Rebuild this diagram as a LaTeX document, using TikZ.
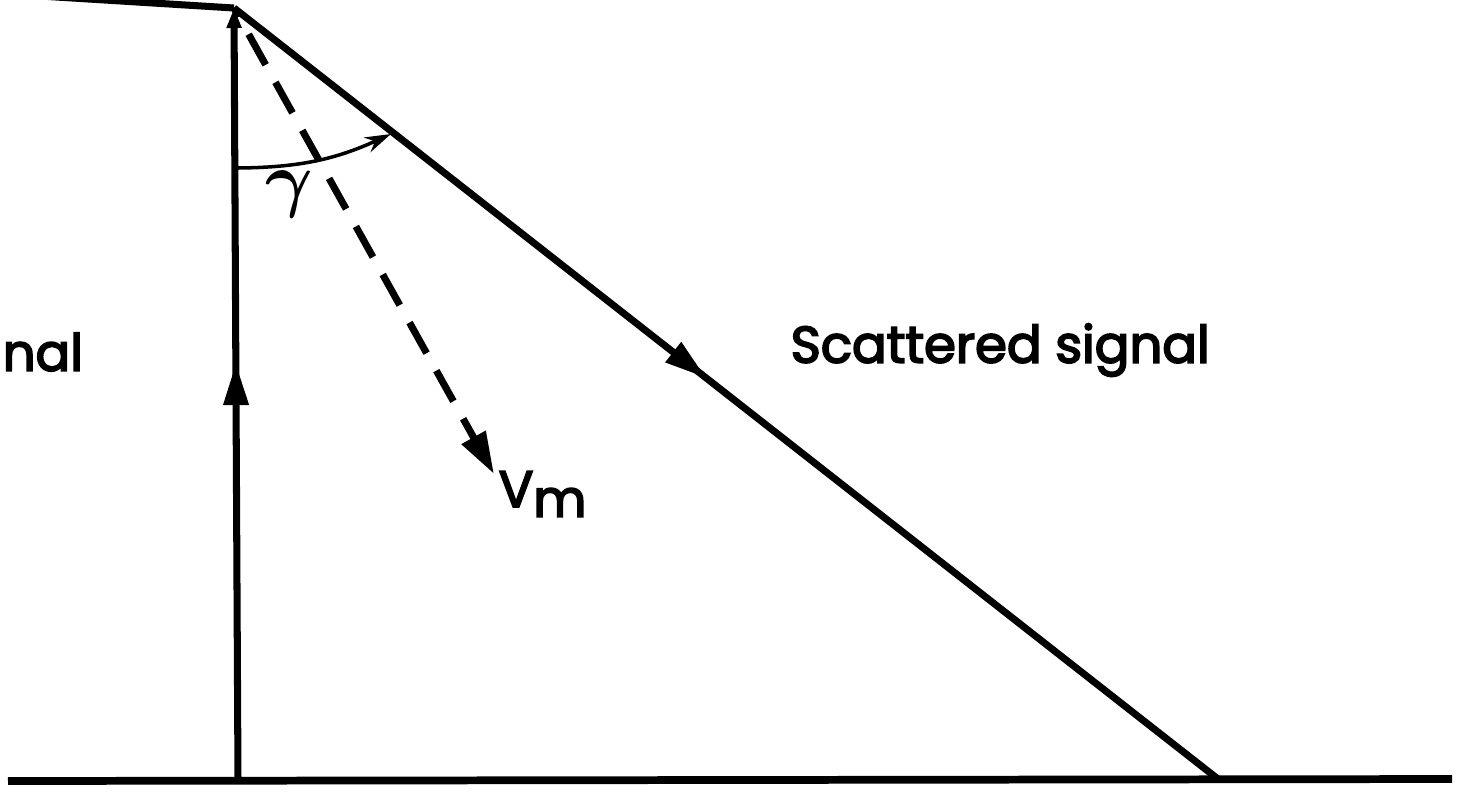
\documentclass[tikz,border=0pt]{standalone}
\usepackage{amsmath}
\usepackage{fontspec}
\newfontfamily\lblfont{Poppins}[BoldFont=Poppins, BoldFeatures={FakeBold=3.5}]
\usetikzlibrary{arrows.meta,decorations.markings}
\tikzset{
  ray/.style={line width=2pt},
  midarrow/.style={postaction={decorate},decoration={markings,
    mark=at position #1 with {\arrow{Triangle[length=0.42cm,width=0.24cm]}}}},
  lbl/.style={font=\lblfont\bfseries\fontsize{14.6}{18}\selectfont, inner sep=0pt},
}
\begin{document}
\begin{tikzpicture}[x=0.01cm,y=-0.01cm]
\useasboundingbox (0,0) rectangle (1460,793);
\coordinate (lin) at (40,-4);
\coordinate (apex) at (234,8);
\coordinate (foot) at (238,780);
\coordinate (sc) at (1218,779);
\coordinate (g0) at (8,781);
\coordinate (g1) at (1452,779);
\coordinate (vm) at (494,474);
\coordinate (a0) at (237,168);
\coordinate (a1) at (391,134);
% ground
\draw[line width=2.2pt] (g0) -- (g1);
% incoming from left top
\draw[ray] (lin) -- (apex);
% vertical (incident) ray
\draw[ray, midarrow=0.54, -{Triangle[length=0.2cm,width=0.14cm]}] (foot) -- (apex);
% scattered ray
\draw[ray, midarrow=0.48] (apex) -- (sc);
% dashed Vm direction
\draw[ray, dash pattern=on 0.35cm off 0.2cm, dash phase=-0.3cm, -{Triangle[length=0.42cm,width=0.26cm]}] (apex) -- (vm);
% gamma arc
\draw[line width=1pt, -{Stealth[length=0.26cm,width=0.16cm]}] (a0) to[bend right=12] (a1);
% labels
\node[font=\fontsize{22}{26}\selectfont, inner sep=0pt] (gam) at (289,194) {$\boldsymbol{\gamma}$};
\node[lbl, anchor=west] (vml) at (498,494) {V\raisebox{-0.35ex}{m}};
\node[lbl, anchor=west] (scl) at (790,350) {Scattered signal};
\node[lbl, anchor=west] (inc) at (2,352) {nal};
\end{tikzpicture}
\end{document}
